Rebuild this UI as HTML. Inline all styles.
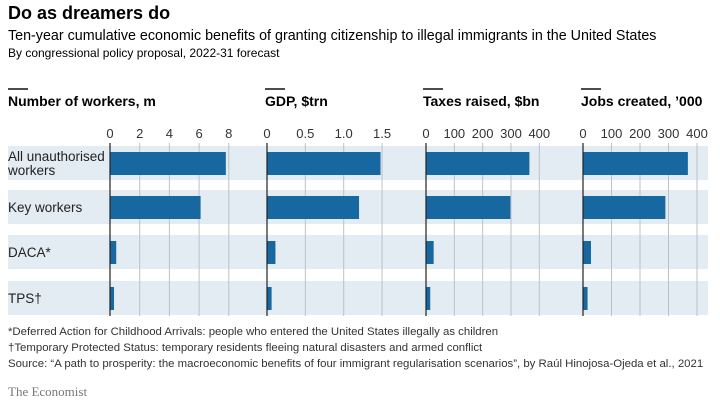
<!DOCTYPE html>
<html><head><meta charset="utf-8"><style>
body{margin:0;width:720px;height:405px;background:#fff;overflow:hidden;font-family:"Liberation Sans",sans-serif;color:#111}
svg text{font-family:"Liberation Sans",sans-serif}
</style></head><body>
<svg id="c" width="720" height="405">
<text x="8" y="19" font-size="18" font-weight="bold">Do as dreamers do</text>
<text x="8" y="40" font-size="14.3">Ten-year cumulative economic benefits of granting citizenship to illegal immigrants in the United States</text>
<text x="8" y="57" font-size="12">By congressional policy proposal, 2022-31 forecast</text>
<g id="plot"></g>
<text x="8" y="335" font-size="11.4" fill="#333">*Deferred Action for Childhood Arrivals: people who entered the United States illegally as children</text>
<text x="8" y="351" font-size="11.4" fill="#333">†Temporary Protected Status: temporary residents fleeing natural disasters and armed conflict</text>
<text x="8" y="367" font-size="11.4" fill="#333">Source: “A path to prosperity: the macroeconomic benefits of four immigrant regularisation scenarios”, by Raúl Hinojosa-Ojeda et al., 2021</text>
<text x="8" y="396" font-size="13" fill="#777" style="font-family:'Liberation Serif',serif">The Economist</text>
</svg>
<script>
const categories=["All unauthorised|workers","Key workers","DACA*","TPS†"];
const workers=[7.8,6.1,0.42,0.27];
const gdp=[1.48,1.2,0.11,0.06];
const taxes=[365,298,27,15];
const jobs=[368,289,28,16];
const workersTicks=["0","2","4","6","8"];
const gdpTicks=["0","0.5","1.0","1.5"];
const taxesTicks=["0","100","200","300","400"];
const jobsTicks=["0","100","200","300","400"];
const panelTitles=["Number of workers, m","GDP, $trn","Taxes raised, $bn","Jobs created, ’000"];

const NS="http://www.w3.org/2000/svg";
const g=document.getElementById('plot');
function el(t,a,p){const e=document.createElementNS(NS,t);for(const k in a)e.setAttribute(k,a[k]);(p||g).appendChild(e);return e;}
const bandTop=[146,190,235,281],bandH=34;
bandTop.forEach((y,i)=>{const r=el('rect',{x:8,y:y,width:700,height:bandH,fill:'#e3ebf3'});

});
categories.forEach((c,i)=>{const parts=c.split('|');const cy=bandTop[i]+bandH/2;
parts.forEach((p,j)=>{const t=el('text',{x:8,y:cy+5+(j-(parts.length-1)/2)*14,'font-size':13.5,fill:'#222'});t.textContent=p;

});});
const panels=[
 {x0:110,px:14.85,vals:workers,ticks:workersTicks,tx:8},
 {x0:267,px:76.7,vals:gdp,ticks:gdpTicks,tx:265},
 {x0:426,px:0.2833,vals:taxes,ticks:taxesTicks,tx:423},
 {x0:583,px:0.285,vals:jobs,ticks:jobsTicks,tx:581}];
panels.forEach((p,k)=>{
 const sx=v=>p.x0+v*p.px;
 const l=el('line',{x1:p.tx,x2:p.tx+20,y1:89,y2:89,stroke:'#111','stroke-width':1.5});
 
 
 const t=el('text',{x:p.tx,y:106,'font-size':14,'font-weight':'bold'});t.textContent=panelTitles[k];
 
 
 p.ticks.forEach(s=>{const v=parseFloat(s);const x=sx(v);
  if(v>0){const gl=el('line',{x1:x,x2:x,y1:143,y2:316,stroke:'#b9c2cc','stroke-width':1});
  
  }
  const tt=el('text',{x:x,y:138,'font-size':13,'text-anchor':'middle',fill:'#333'});tt.textContent=s;
  
  });
 p.vals.forEach((v,i)=>{const b=el('rect',{x:p.x0,y:bandTop[i]+6,width:sx(v)-p.x0,height:23,fill:'#1767a0'});
  
  });
 const z=el('line',{x1:p.x0,x2:p.x0,y1:143,y2:316,stroke:'#222','stroke-width':1.2});
 
 
});
</script>
</body></html>
